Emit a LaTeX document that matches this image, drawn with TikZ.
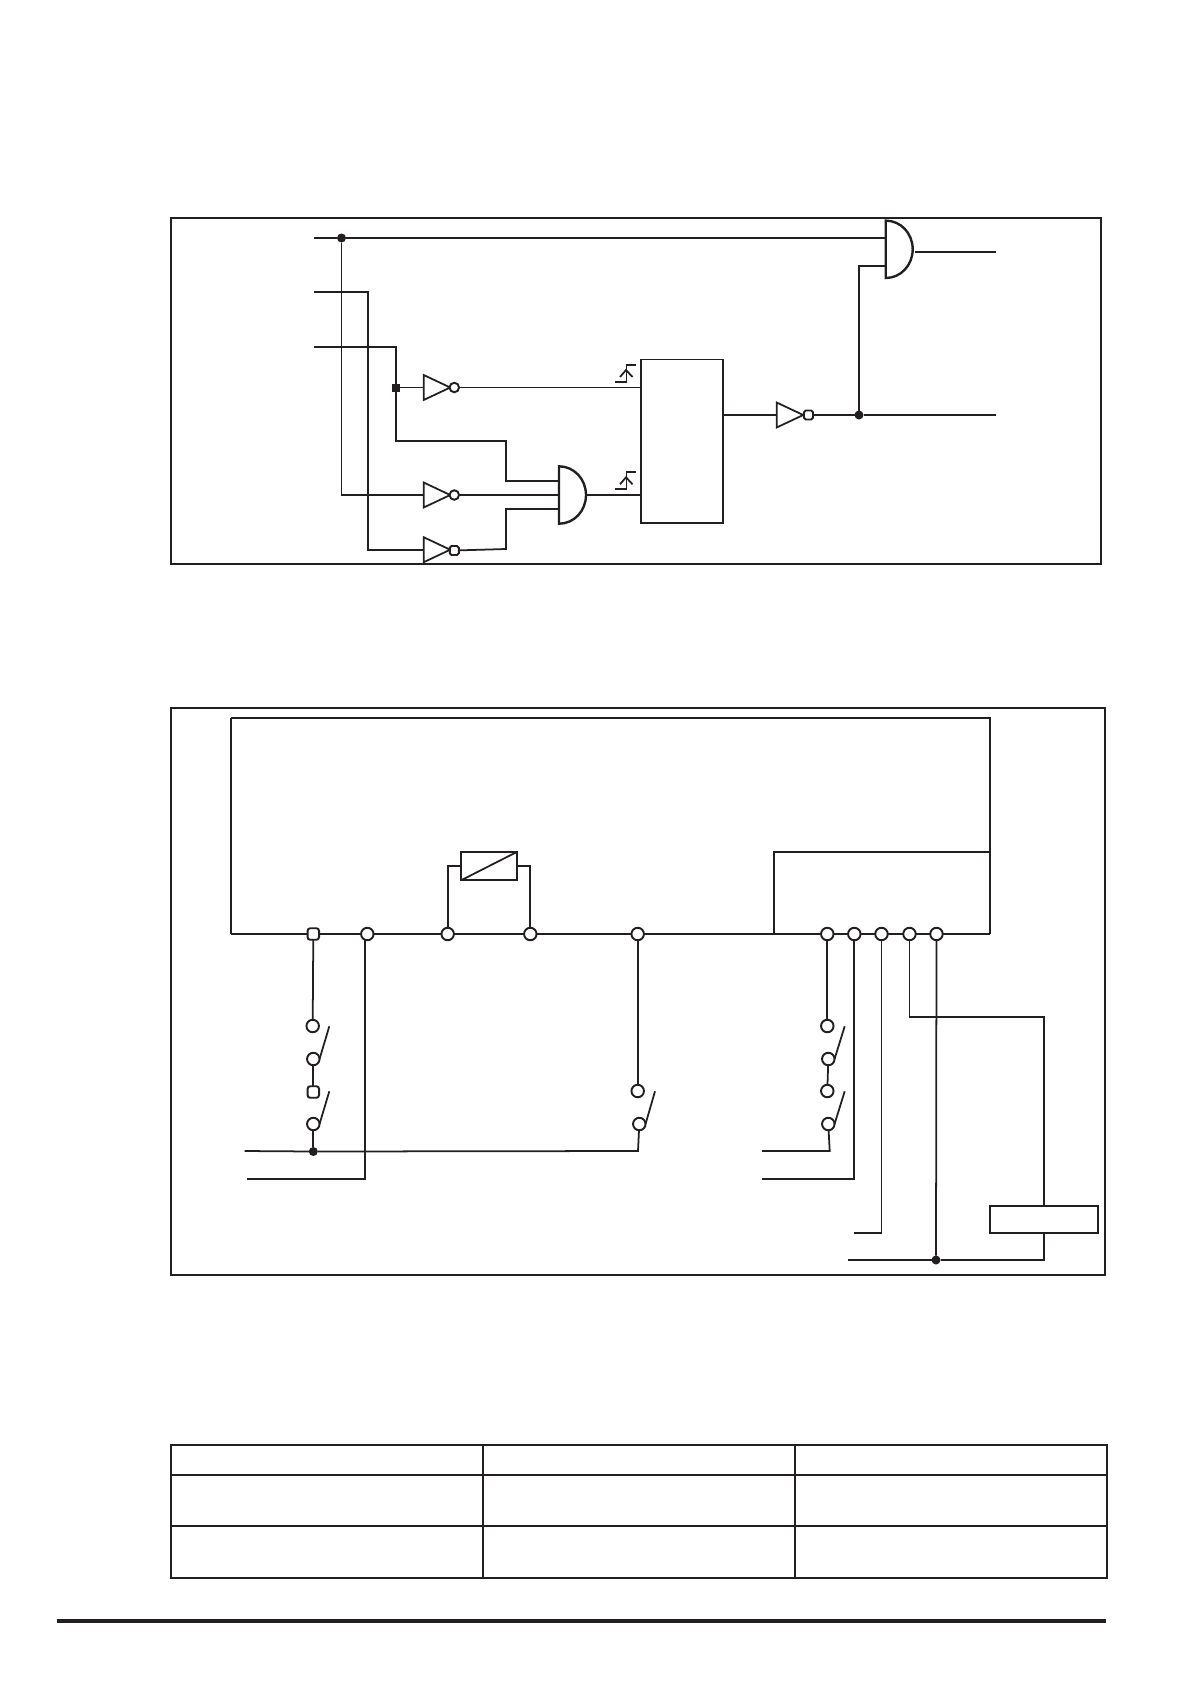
\documentclass[tikz,border=0pt]{standalone}
\usetikzlibrary{shapes.geometric}

\definecolor{ink}{HTML}{231F20}

\tikzset{
    frame/.style = {
        line width=1.25pt,
        ink
    },
    wire/.style = {
        line width=1pt,
        ink
    },
    boxnode/.style = {
        draw=ink,
        line width=1pt,
        rectangle,
        inner sep=0pt,
        outer sep=0pt
    },
    term/.style = {
        draw=ink,
        line width=1.1pt,
        circle,
        fill=white,
        minimum size=0.25cm,
        inner sep=0pt,
        outer sep=0pt
    },
    termsq/.style = {
        term,
        rectangle,
        rounded corners=1.5pt,
        minimum size=0.23cm
    },
    bubble/.style = {
        term,
        minimum size=0.19cm
    },
    bubblesq/.style = {
        bubble,
        rectangle,
        rounded corners=1pt,
        minimum size=0.18cm
    },
    dot/.style = {
        ink,
        fill=ink,
        circle,
        minimum size=0.18cm,
        inner sep=0pt,
        outer sep=0pt
    },
    squaredot/.style = {
        ink,
        fill=ink,
        rectangle,
        minimum size=0.16cm,
        inner sep=0pt,
        outer sep=0pt
    },
    inverter/.style = {
        draw=ink,
        line width=1pt,
        isosceles triangle,
        isosceles triangle stretches,
        minimum width=0.5cm,
        minimum height=0.53cm,
        inner sep=0pt,
        outer sep=0pt,
        anchor=lower side
    },
    andgate/.pic = {
        \draw[frame, line width=1.35pt] (0,-28.7) .. controls (15,-28.7) and (27,-16) .. (27,0)
            .. controls (27,16) and (15,28.7) .. (0,28.7) -- cycle;
    },
    stepmark/.pic = {
        \draw[wire] (-12,0) -- (0,0) -- (0,-16.7) -- (9,-16.7);
        \draw[wire] (-6.5,-4.7) -- (-0.5,-11.7) -- (6,-4.7);
    }
}

\begin{document}
\begin{tikzpicture}[x=0.02cm,y=-0.02cm]
    \useasboundingbox (0,0) rectangle (1191,1684);

    % Logic diagram
    \draw[frame] (171,218) rectangle (1101,564);

    \coordinate (in1) at (314,238);
    \coordinate (in2) at (314,292);
    \coordinate (in3) at (314,347);
    \coordinate (c1) at (342,495);
    \coordinate (c2) at (368,549.7);
    \coordinate (j1) at (506,441);
    \coordinate (j2) at (506,549);
    \coordinate (gA1) at (559,481);
    \coordinate (gA2) at (559,495);
    \coordinate (gA3) at (559,509);
    \coordinate (gB1) at (885.7,238);
    \coordinate (gB2) at (885.7,266);
    \coordinate (gAout) at (586.7,495);
    \coordinate (gBout) at (915.3,252);
    \coordinate (out1) at (996,252);
    \coordinate (out2) at (996,415);

    \node[dot] (dot1) at (341.5,238) {};
    \node[squaredot] (sq1) at (396,387.5) {};
    \node[dot] (dot2) at (859,415) {};

    \node[inverter] (inv1) at (423.7,387.5) {};
    \node[inverter] (inv2) at (423.7,495) {};
    \node[inverter] (inv3) at (423.7,549.7) {};
    \node[inverter] (inv4) at (776.7,415) {};
    \node[bubble] (bub1) at (454.3,387.5) {};
    \node[bubble] (bub2) at (454.3,495) {};
    \node[bubblesq] (bub3) at (454.3,550.5) {};
    \node[bubblesq] (bub4) at (808.5,415) {};

    \node[boxnode, minimum width=1.64cm, minimum height=3.27cm] (flop) at (682.3,441.3) {};

    \pic (gA) at (559,495) {andgate};
    \pic (gB) at (885.7,249.3) {andgate};
    \pic (markA) at (626.5,381.7) {stepmark};
    \pic (markB) at (626.5,489) {stepmark};

    \draw[wire] (in1) -- (dot1) -- (gB1);
    \draw[wire] (dot1) |- (c1) -- (inv2.lower side);
    \draw[wire] (in2) -| (c2) -- (inv3.lower side);
    \draw[wire] (in3) -| (sq1);
    \draw[wire] (sq1) -- (inv1.lower side);
    \draw[wire] (sq1) |- (j1) |- (gA1);
    \draw[wire] (bub1) -- (bub1 -| flop.west);
    \draw[wire] (bub2) -- (gA2);
    \draw[wire] (bub3) -- (j2) |- (gA3);
    \draw[wire] (gAout) -- (gAout -| flop.west);
    \draw[wire] (flop.east |- inv4.lower side) -- (inv4.lower side);
    \draw[wire] (bub4) -- (dot2) -- (out2);
    \draw[wire] (dot2) |- (gB2);
    \draw[wire] (gBout) -- (out1);

    % Wiring diagram
    \draw[frame] (171,708) rectangle (1105.3,1275);

    \coordinate (bl) at (231.3,934);
    \coordinate (tl) at (231.3,718);
    \coordinate (tr) at (990,718);
    \coordinate (br) at (990,934);
    \coordinate (sub1) at (774,934);
    \coordinate (sub2) at (774,851.7);
    \coordinate (sub3) at (990,851.7);

    \node[termsq] (t1) at (313.3,934) {};
    \node[term] (t2) at (367.3,934) {};
    \node[term] (t3) at (447.7,934) {};
    \node[term] (t4) at (530.3,934) {};
    \node[term] (t5) at (637.7,934) {};
    \node[term] (t6) at (827.3,934) {};
    \node[term] (t7) at (854.3,934) {};
    \node[term] (t8) at (881.5,934) {};
    \node[term] (t9) at (909.5,934) {};
    \node[term] (t10) at (936.5,934) {};

    \node[boxnode, minimum width=1.126cm, minimum height=0.572cm] (relay) at (489.2,866) {};
    \node[boxnode, minimum width=2.172cm, minimum height=0.54cm] (load) at (1044,1219.5) {};

    \draw[wire] (tl) -- (tr) -- (br);
    \draw[wire] (tl) -- (bl);
    \draw[wire] (sub1) -- (sub2) -- (sub3);
    \draw[wire] (bl) -- (t1) -- (t2) -- (t3) -- (t4) -- (t5) -- (t6) -- (t7) -- (t8) -- (t9) -- (t10) -- (br);

    \draw[wire] (relay.south west) -- (relay.north east);
    \draw[wire] (relay.west) -| (t3);
    \draw[wire] (relay.east) -| (t4);

    % Contacts, left to right
    \node[term] (a1) at (312.7,1026) {};
    \node[term] (a2) at (313.3,1059) {};
    \node[termsq] (a3) at (313.3,1092) {};
    \node[term] (a4) at (313.3,1124) {};
    \node[term] (b1) at (637.7,1091) {};
    \node[term] (b2) at (639.3,1124) {};
    \node[term] (d1) at (827.3,1026) {};
    \node[term] (d2) at (828.3,1059) {};
    \node[term] (d3) at (827.3,1091) {};
    \node[term] (d4) at (828.3,1124) {};
    \node[dot] (dot3) at (313.3,1151.5) {};
    \node[dot] (dot4) at (936,1260) {};

    \coordinate (a2tip) at (329.3,1026.3);
    \coordinate (a4tip) at (329.3,1091.3);
    \coordinate (b2tip) at (655,1091.3);
    \coordinate (d2tip) at (844.7,1026.3);
    \coordinate (d4tip) at (844.7,1091.3);
    \coordinate (b3) at (638,1151);
    \coordinate (d5) at (829.7,1151);
    \coordinate (lead1) at (244.7,1151);
    \coordinate (lead2) at (247,1179.3);
    \coordinate (lead3) at (762,1151);
    \coordinate (lead4) at (762,1179.3);
    \coordinate (lead5) at (854,1232.7);
    \coordinate (lead6) at (848.3,1260);
    \coordinate (t2foot) at (365,939.5);
    \coordinate (t9bend) at (1044,1016.7);

    \draw[wire] (t1) -- (a1);
    \draw[wire] (a2) -- (a3);
    \draw[wire] (a4) -- (dot3);
    \draw[wire] (lead1) -- (dot3) -- (b3) -- (b2);
    \draw[wire] (t2foot) |- (lead2);
    \draw[wire] (t5) -- (b1);
    \draw[wire] (t6) -- (d1);
    \draw[wire] (d2) -- (d3);
    \draw[wire] (d4) -- (d5) -- (lead3);
    \draw[wire] (t7) |- (lead4);
    \draw[wire] (t8) |- (lead5);
    \draw[wire] (t9) |- (t9bend) -- (load.north);
    \draw[wire] (t10) -- (dot4);
    \draw[wire] (lead6) -- (dot4);
    \draw[wire] (dot4) -| (load.south);

    \draw[wire] (a2.east) -- (a2tip);
    \draw[wire] (a4.east) -- (a4tip);
    \draw[wire] (b2.east) -- (b2tip);
    \draw[wire] (d2.east) -- (d2tip);
    \draw[wire] (d4.east) -- (d4tip);

    % Table
    \draw[frame] (170.7,1445) rectangle (1107,1577.7);
    \foreach \rowy in {1474.7,1525.7}
        \draw[frame] (170.7,\rowy) -- (1107,\rowy);
    \foreach \colx in {483,795}
        \draw[frame] (\colx,1445) -- (\colx,1577.7);

    % Rule at the foot of the page
    \draw[ink, line width=2.3pt] (57,1621) -- (1105.7,1621);
\end{tikzpicture}
\end{document}
